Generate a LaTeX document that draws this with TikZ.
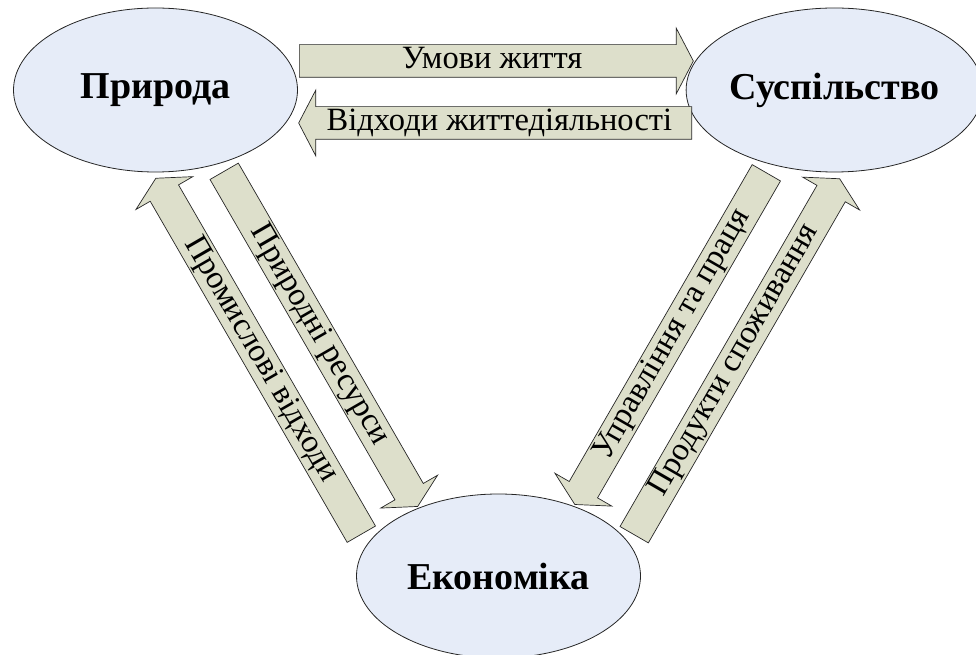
\documentclass[tikz,border=0pt]{standalone}
\usepackage{fontspec}
\setmainfont{Liberation Serif}
\usetikzlibrary{shapes.geometric,shapes.arrows}
\definecolor{skyfill}{RGB}{230,236,248}
\definecolor{flowfill}{RGB}{221,223,203}

\begin{document}
\begin{tikzpicture}[x=1pt,y=1pt,
    area/.style={ellipse,draw=black!85,fill=skyfill,line width=0.8pt,
      minimum width=284pt,minimum height=164pt,inner sep=0pt,
      font=\fontsize{38}{42}\selectfont\bfseries},
    flow/.style={single arrow,draw=black!85,fill=flowfill,line width=0.7pt,
      single arrow head extend=16.5pt,single arrow tip angle=125,
      inner xsep=0pt,inner ysep=1.25pt,text height=22pt,text depth=7.5pt,
      anchor=tail,font=\fontsize{32.5}{36}\selectfont}]
    \useasboundingbox (0,0) rectangle (976,654);
    \clip (0,0) rectangle (976,654);
    % the three spheres
    \node[area] (nature) at (155.5,564) {Природа};
    \node[area] (society) at (834.5,564) {Суспільство};
    \node[area] (economy) at (498.5,78) {Економіка};
    % flows between them
    \node[flow,minimum height=394pt] (living) at (299,593) {Умови життя};
    \node[flow,shape border rotate=180,minimum height=393pt] (waste) at (692,531) {Відходи життедіяльності};
    \node[flow,rotate=-60,minimum height=387pt] (res) at (224,483) {Природні ресурси};
    \node[flow,rotate=-60,shape border rotate=180,minimum height=411pt] (indw) at (361.5,119.5) {Промислові відходи};
    \node[flow,rotate=60,shape border rotate=180,minimum height=383pt] (labour) at (766.5,481.5) {Управління та праця};
    \node[flow,rotate=60,minimum height=411pt] (goods) at (634,119) {Продукти споживання};
\end{tikzpicture}
\end{document}
